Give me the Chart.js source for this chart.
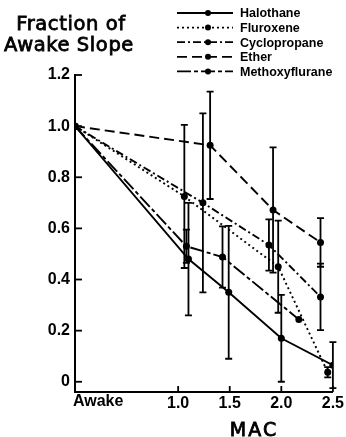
<!DOCTYPE html>
<html>
<head>
<meta charset="utf-8">
<script src="https://cdn.jsdelivr.net/npm/chart.js@4.4.1/dist/chart.umd.min.js"></script>
<style>
html,body{margin:0;padding:0;background:#fff;}
#wrap{position:relative;width:346px;height:437px;}
</style>
</head>
<body>
<div id="wrap"><canvas id="c" width="346" height="437"></canvas></div>
<script>
// ---- data ----
const seriesNames = ['Halothane', 'Fluroxene', 'Cyclopropane', 'Ether', 'Methoxyflurane'];
const halothaneX = [0, 1.10, 1.49, 2.00, 2.50];
const halothaneY = [1.0, 0.48, 0.35, 0.17, 0.065];
const halothaneErr = [null, 0.22, 0.26, 0.17, 0.09];
const fluroxeneX = [0, 1.06, 1.97, 2.45];
const fluroxeneY = [1.0, 0.725, 0.45, 0.037];
const fluroxeneErr = [null, 0.28, 0.18, 0.02];
const cyclopropaneX = [0, 1.24, 1.88, 2.38];
const cyclopropaneY = [1.0, 0.70, 0.535, 0.332];
const cyclopropaneErr = [null, 0.35, 0.10, 0.13];
const etherX = [0, 1.31, 1.92, 2.38];
const etherY = [1.0, 0.925, 0.672, 0.545];
const etherErr = [null, 0.21, 0.245, 0.095];
const methoxyfluraneX = [0, 1.08, 1.43, 2.17];
const methoxyfluraneY = [1.0, 0.53, 0.488, 0.244];
const methoxyfluraneErr = [null, 0.065, 0.12, null];
const xTickValues = [0, 1.0, 1.5, 2.0, 2.5];
const xTickLabels = ['Awake', '1.0', '1.5', '2.0', '2.5'];
const yTickValues = [0, 0.2, 0.4, 0.6, 0.8, 1.0, 1.2];
const yTickLabels = ['0', '0.2', '0.4', '0.6', '0.8', '1.0', '1.2'];
const yTitleLines = ['Fraction of', 'Awake Slope'];
const xTitle = 'MAC';

// ---- styles ----
const dashes = [[], [2, 3], [8, 3, 2, 3], [10, 5], [14, 3, 4, 3]];
const xs = [halothaneX, fluroxeneX, cyclopropaneX, etherX, methoxyfluraneX];
const ys = [halothaneY, fluroxeneY, cyclopropaneY, etherY, methoxyfluraneY];
const errs = [halothaneErr, fluroxeneErr, cyclopropaneErr, etherErr, methoxyfluraneErr];

const datasets = seriesNames.map((name, i) => ({
  label: name,
  data: xs[i].map((x, j) => ({x: x, y: ys[i][j]})),
  errors: errs[i],
  showLine: true,
  borderColor: '#000',
  backgroundColor: '#000',
  borderWidth: 1.9,
  borderDash: dashes[i],
  pointRadius: 3.5,
  pointBackgroundColor: '#000',
  pointBorderWidth: 0,
  fill: false,
  tension: 0
}));

const tickFont = "bold 16px 'Liberation Sans'";

function heavyText(ctx, text, x, y, w) {
  ctx.fillText(text, x, y);
  ctx.lineWidth = w;
  ctx.strokeText(text, x, y);
}

const decor = {
  id: 'decor',
  afterDatasetsDraw(chart) {
    const ctx = chart.ctx;
    const xS = chart.scales.x, yS = chart.scales.y;
    ctx.save();
    // error bars
    ctx.strokeStyle = '#000';
    ctx.lineWidth = 1.8;
    ctx.setLineDash([]);
    chart.data.datasets.forEach(ds => {
      ds.data.forEach((p, j) => {
        const e = ds.errors[j];
        if (e == null) return;
        const px = xS.getPixelForValue(p.x);
        const top = yS.getPixelForValue(p.y + e);
        const bot = yS.getPixelForValue(p.y - e);
        ctx.beginPath();
        ctx.moveTo(px, top); ctx.lineTo(px, bot);
        ctx.moveTo(px - 3.5, top); ctx.lineTo(px + 3.5, top);
        ctx.moveTo(px - 3.5, bot); ctx.lineTo(px + 3.5, bot);
        ctx.stroke();
      });
    });
    // inside tick marks
    ctx.lineWidth = 1.8;
    const left = chart.chartArea.left, bottom = chart.chartArea.bottom;
    yTickValues.forEach(v => {
      const py = yS.getPixelForValue(v);
      ctx.beginPath(); ctx.moveTo(left, py); ctx.lineTo(left + 7, py); ctx.stroke();
    });
    xTickValues.forEach(v => {
      if (v === 0) return;
      const px = xS.getPixelForValue(v);
      ctx.beginPath(); ctx.moveTo(px, bottom); ctx.lineTo(px, bottom - 6); ctx.stroke();
    });
    // Awake label
    ctx.fillStyle = '#000';
    ctx.font = tickFont;
    ctx.textAlign = 'left';
    ctx.textBaseline = 'top';
    ctx.fillText(xTickLabels[0], left - 2, bottom + 2);
    // x title
    ctx.font = "19px 'DejaVu Sans'";
    try { ctx.letterSpacing = '2px'; } catch (e) {}
    ctx.textAlign = 'center';
    ctx.textBaseline = 'alphabetic';
    heavyText(ctx, xTitle, 254, 436, 0.8);
    // y title
    ctx.font = "19.5px 'DejaVu Sans'";
    try { ctx.letterSpacing = '0.6px'; } catch (e) {}
    heavyText(ctx, yTitleLines[0], 71, 30, 0.8);
    heavyText(ctx, yTitleLines[1], 69, 51, 0.8);
    try { ctx.letterSpacing = '0px'; } catch (e) {}
    // legend
    chart.data.datasets.forEach((ds, i) => {
      const ly = 13 + i * 14.6;
      ctx.strokeStyle = '#000';
      ctx.lineWidth = 1.8;
      ctx.setLineDash(ds.borderDash);
      ctx.beginPath(); ctx.moveTo(177, ly); ctx.lineTo(233, ly); ctx.stroke();
      ctx.setLineDash([]);
      ctx.beginPath(); ctx.arc(208, ly, 3, 0, Math.PI * 2); ctx.fill();
      ctx.font = "bold 12.5px 'Liberation Sans'";
      ctx.textAlign = 'left';
      ctx.textBaseline = 'middle';
      ctx.fillText(ds.label, 240, ly + 1);
    });
    ctx.restore();
  }
};

new Chart(document.getElementById('c'), {
  type: 'scatter',
  data: {datasets: datasets},
  plugins: [decor],
  options: {
    responsive: false,
    animation: false,
    devicePixelRatio: 1,
    layout: {padding: {top: 75, right: 13, left: 0, bottom: 0}},
    plugins: {legend: {display: false}, tooltip: {enabled: false}, title: {display: false}},
    scales: {
      x: {
        type: 'linear', min: 0, max: 2.5,
        afterBuildTicks: s => { s.ticks = xTickValues.map(v => ({value: v})); },
        afterFit: s => { s.height = 45; },
        grid: {display: false, drawTicks: false},
        border: {display: true, color: '#000', width: 2},
        ticks: {
          color: '#000', font: {family: 'Liberation Sans', size: 16, weight: 'bold'}, padding: 2,
          maxRotation: 0, autoSkip: false,
          callback: (v) => { const k = xTickValues.indexOf(v); return k <= 0 ? '' : xTickLabels[k]; }
        }
      },
      y: {
        type: 'linear', min: -0.04, max: 1.2,
        afterBuildTicks: s => { s.ticks = yTickValues.map(v => ({value: v})); },
        afterFit: s => { s.width = 75; },
        grid: {display: false, drawTicks: false},
        border: {display: true, color: '#000', width: 2},
        ticks: {
          color: '#000', font: {family: 'Liberation Sans', size: 16, weight: 'bold'}, padding: 5,
          autoSkip: false,
          callback: (v) => { const k = yTickValues.findIndex(t => Math.abs(t - v) < 1e-9); return k < 0 ? '' : yTickLabels[k]; }
        }
      }
    }
  }
});
</script>
</body>
</html>
